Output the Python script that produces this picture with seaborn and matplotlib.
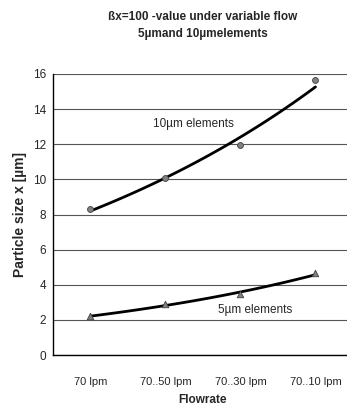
import numpy as np
import pandas as pd
import matplotlib
matplotlib.use("Agg")
import matplotlib.pyplot as plt
import seaborn as sns

categories = ["70 lpm", "70..50 lpm", "70..30 lpm", "70..10 lpm"]
size_10um = [8.3, 10.1, 11.95, 15.65]
size_5um = [2.2, 2.9, 3.45, 4.65]
yticks = [0, 2, 4, 6, 8, 10, 12, 14, 16]

sns.set_style("white")
plt.rcParams['font.family'] = ['Liberation Sans', 'DejaVu Sans']

fig = plt.figure(figsize=(3.47, 4.07), dpi=100)
ax = fig.add_axes([53/347, 52/407, 300/347, 281/407])

pos = np.arange(len(categories))
pts = pd.DataFrame({
    "pos": np.concatenate([pos, pos]),
    "val": size_10um + size_5um,
    "series": ["10"] * 4 + ["5"] * 4,
})

# exponential trendlines (Excel style: y = a*exp(b*x), x = 1..n)
curves = []
for name, vals in [("10", size_10um), ("5", size_5um)]:
    xn = np.arange(1, len(vals) + 1)
    b, lna = np.polyfit(xn, np.log(vals), 1)
    xs = np.linspace(1, len(vals), 100)
    curves.append(pd.DataFrame({"pos": xs - 1, "val": np.exp(lna + b * xs), "series": name}))
curves = pd.concat(curves, ignore_index=True)

for v in yticks:
    ax.axhline(v, color="#555555", lw=0.8, zorder=0)

sns.lineplot(data=curves, x="pos", y="val", units="series", estimator=None,
             color="black", lw=2, ax=ax, zorder=3)
sns.scatterplot(data=pts[pts.series == "10"], x="pos", y="val", marker="o",
                color="#808080", edgecolor="#404040", s=18, linewidth=0.6, ax=ax, zorder=4)
sns.scatterplot(data=pts[pts.series == "5"], x="pos", y="val", marker="^",
                color="#808080", edgecolor="#404040", s=22, linewidth=0.6, ax=ax, zorder=4)

ax.set_xlim(-0.5, 3.5)
ax.set_ylim(0, 16)
ax.set_yticks(yticks)
ax.set_yticklabels([str(v) for v in yticks], fontsize=8.5)
ax.set_xticks(pos - 0.5)
ax.set_xticklabels([])
ax.set_xticks(pos, minor=True)
ax.set_xticklabels(categories, minor=True, fontsize=8)
ax.tick_params(axis="x", which="major", direction="out", length=3, color="#555555", width=0.8)
ax.tick_params(axis="x", which="minor", length=0, pad=16)
ax.tick_params(axis="y", direction="out", length=3, color="black", width=0.8, pad=2)

for s in ["top", "right"]:
    ax.spines[s].set_visible(False)
for s in ["left", "bottom"]:
    ax.spines[s].set_color("black")
    ax.spines[s].set_linewidth(1.0)

ax.set_ylabel("Particle size x [µm]", fontsize=10, fontweight="bold", labelpad=4)
ax.set_xlabel("Flowrate", fontsize=8.5, fontweight="bold", labelpad=5)
ax.set_title("ßx=100 -value under variable flow\n5µmand 10µmelements",
             fontsize=8.5, fontweight="bold", pad=27, linespacing=1.55)

ax.text(1.37, 13.15, "10µm elements", fontsize=8.5, ha="center", va="center")
ax.text(2.19, 2.56, "5µm elements", fontsize=8.5, ha="center", va="center")

fig.savefig("out.png", dpi=100)
